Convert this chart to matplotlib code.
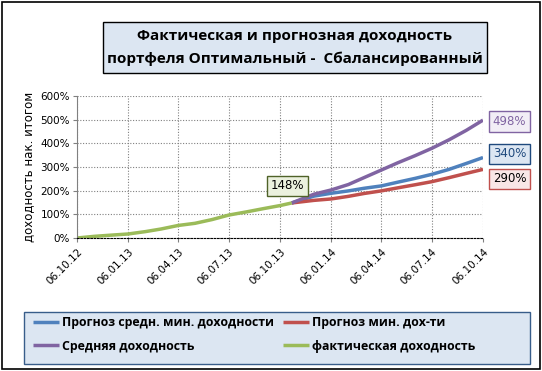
import matplotlib
matplotlib.use("Agg")
import matplotlib.pyplot as plt
from matplotlib.patches import Rectangle
from matplotlib.ticker import FuncFormatter
import pandas as pd

# actual cumulative return, %
fact_dates = ["2012-10-06", "2012-11-06", "2012-12-06", "2013-01-06", "2013-02-06",
              "2013-03-06", "2013-04-06", "2013-05-06", "2013-06-06", "2013-07-06",
              "2013-08-06", "2013-09-06", "2013-10-06", "2013-10-27"]
fact = [0, 7, 12, 17, 27, 38, 53, 62, 78, 97, 110, 124, 137, 148]

# forecasts, %
fc_dates = ["2013-10-27", "2013-12-06", "2014-01-06", "2014-02-06", "2014-03-06",
            "2014-04-06", "2014-05-06", "2014-06-06", "2014-07-06", "2014-08-06",
            "2014-09-06", "2014-10-06"]
avg_ret = [148, 185, 203, 226, 255, 287, 318, 348, 379, 415, 455, 498]
fc_avg_min = [148, 177, 189, 199, 210, 220, 236, 252, 269, 290, 315, 340]
fc_min = [148, 159, 165, 176, 188, 199, 212, 225, 238, 255, 273, 290]

tick_dates = ["2012-10-06", "2013-01-06", "2013-04-06", "2013-07-06", "2013-10-06",
              "2014-01-06", "2014-04-06", "2014-07-06", "2014-10-06"]
tick_labels = ["06.10.12", "06.01.13", "06.04.13", "06.07.13", "06.10.13",
               "06.01.14", "06.04.14", "06.07.14", "06.10.14"]

labels = ["Прогноз средн. мин. доходности", "Прогноз мин. дох-ти",
          "Средняя доходность", "фактическая доходность"]

BLUE, RED, PURPLE, GREEN = "#4F81BD", "#C0504D", "#8064A2", "#9BBB59"

W, H = 542, 371
fig = plt.figure(figsize=(W / 100, H / 100), dpi=100)


def px(x0, y0, x1, y1):
    # pixel box (top-left origin) -> figure fraction rect
    return [x0 / W, 1 - y1 / H, (x1 - x0) / W, (y1 - y0) / H]


def box(x0, y0, x1, y1, **kw):
    r = px(x0, y0, x1, y1)
    fig.patches.append(Rectangle((r[0], r[1]), r[2], r[3], transform=fig.transFigure, **kw))


# outer chart border
box(1.5, 1.5, 539.5, 368.5, fill=False, edgecolor="black", lw=1.2)

# title box
box(103, 22, 487, 73, facecolor="#DCE6F2", edgecolor="black", lw=1.0)
tfont = dict(family="Open Sans", weight="bold", fontsize=11, ha="center", va="center")
fig.text(295 / W, 1 - 36 / H, "Фактическая и прогнозная доходность", **tfont)
fig.text(295 / W, 1 - 59 / H, "портфеля Оптимальный -  Сбалансированный", **tfont)

ax = fig.add_axes(px(77, 96, 483, 238))

fd = pd.to_datetime(fact_dates)
cd = pd.to_datetime(fc_dates)
l_blue, = ax.plot(cd, fc_avg_min, color=BLUE, lw=2.5, solid_capstyle="butt")
l_red, = ax.plot(cd, fc_min, color=RED, lw=2.5, solid_capstyle="butt")
l_purple, = ax.plot(cd, avg_ret, color=PURPLE, lw=2.5, solid_capstyle="butt")
l_green, = ax.plot(fd, fact, color=GREEN, lw=2.5, solid_capstyle="butt")

td = pd.to_datetime(tick_dates)
ax.set_xlim(td[0], td[-1])
ax.set_ylim(0, 600)
ax.set_xticks(td)
ax.set_xticklabels(tick_labels, rotation=45, ha="right", rotation_mode="anchor",
                   fontsize=7.5, family="DejaVu Sans")
ax.set_yticks(range(0, 601, 100))
ax.yaxis.set_major_formatter(FuncFormatter(lambda v, p: "%d%%" % v))
ax.tick_params(axis="y", labelsize=7.5, length=3, color="#808080", pad=2)
ax.tick_params(axis="x", length=3, color="#808080", pad=3)
ax.grid(True, color="#808080", linestyle=(0, (1, 1.5)), lw=0.8)
for s in ["top", "right"]:
    ax.spines[s].set_visible(False)
ax.spines["left"].set_color("#808080")
ax.spines["bottom"].set_color("black")
ax.spines["bottom"].set_linestyle((0, (1.5, 1.5)))
ax.set_ylabel("доходность нак. итогом", fontsize=8.5, family="DejaVu Sans", labelpad=4)


# value labels
def tag(x, y, txt, fc, ec, tc, xoff, yoff):
    ax.annotate(txt, (x, y), xytext=(xoff, yoff), textcoords="offset points",
                fontsize=8.5, color=tc, ha="center", va="center", family="DejaVu Sans",
                bbox=dict(boxstyle="square,pad=0.3", fc=fc, ec=ec, lw=1.0),
                annotation_clip=False)


tag(fd[-1], fact[-1], "148%", "#EBF1DE", "#4F6228", "black", -3, 12.5)
tag(cd[-1], avg_ret[-1], "498%", "#F2EEF6", PURPLE, PURPLE, 19, -1)
tag(cd[-1], fc_avg_min[-1], "340%", "#DCE6F2", "#1F497D", "#1F497D", 19, 2.7)
tag(cd[-1], fc_min[-1], "290%", "#F8E6E6", RED, "black", 19, -6.7)

# legend
box(24, 312, 530, 364, facecolor="#DCE6F2", edgecolor="#385D8A", lw=1.0)
leg = fig.legend([l_blue, l_purple, l_red, l_green],
                 [labels[0], labels[2], labels[1], labels[3]],
                 ncol=2, loc="upper left", bbox_to_anchor=(33 / W, 1 - 316 / H),
                 prop=dict(family="Open Sans", weight="bold", size=8.9),
                 frameon=False, handlelength=2.1, handletextpad=0.25,
                 borderaxespad=0, borderpad=0, columnspacing=0.75, labelspacing=0.85)

fig.savefig("out.png", dpi=100)
